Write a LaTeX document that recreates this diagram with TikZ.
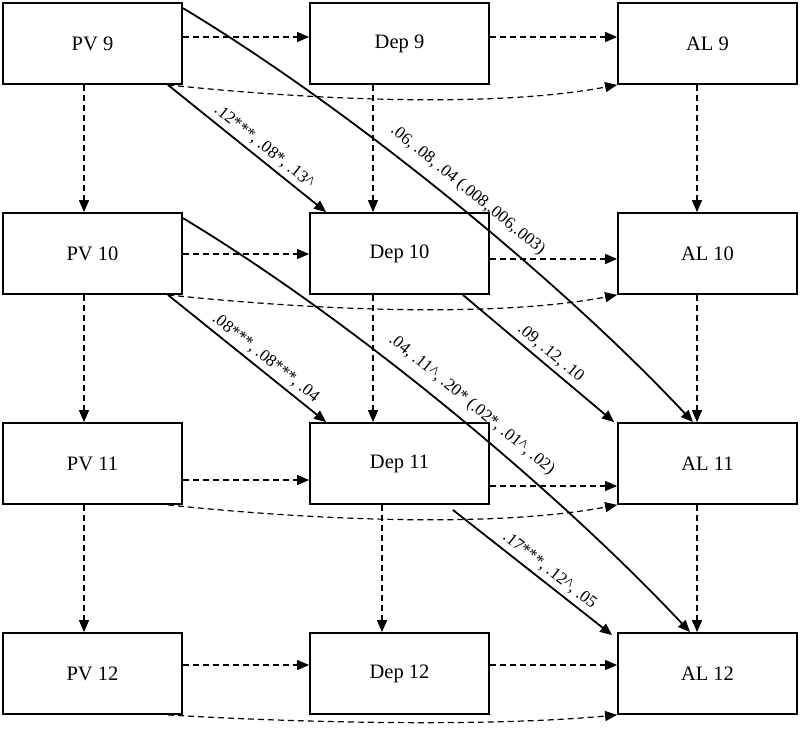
\documentclass[tikz,border=0pt]{standalone}
\usepackage{fontspec}
\setmainfont{Liberation Serif}
\usetikzlibrary{arrows.meta}
\begin{document}
\begin{tikzpicture}[x=1pt,y=-1pt,
  box/.style={draw,line width=1.8pt,minimum width=179pt,minimum height=81pt,inner sep=0pt,font=\fontsize{20.5}{24}\selectfont},
  dsh/.style={line width=1.2pt,dash pattern=on 6pt off 4pt,-{Triangle[length=12pt,width=10pt]}},
  sol/.style={line width=1.8pt,-{Triangle[length=12pt,width=10pt]}},
  lab/.style={sloped,above=1pt,font=\fontsize{17}{20}\selectfont}]
\useasboundingbox (0,0) rectangle (800,731);
% boxes
\node[box] (pv9)  at (92.5,43.5) {PV 9};
\node[box] (dep9) at (399.5,43.5) {Dep 9};
\node[box] (al9)  at (707.5,43.5) {AL 9};
\node[box] (pv10)  at (92.5,253.5) {PV 10};
\node[box] (dep10) at (399.5,253.5) {Dep 10};
\node[box] (al10)  at (707.5,253.5) {AL 10};
\node[box] (pv11)  at (92.5,463.5) {PV 11};
\node[box] (dep11) at (399.5,463.5) {Dep 11};
\node[box] (al11)  at (707.5,463.5) {AL 11};
\node[box] (pv12)  at (92.5,673.5) {PV 12};
\node[box] (dep12) at (399.5,673.5) {Dep 12};
\node[box] (al12)  at (707.5,673.5) {AL 12};
% horizontal dashed
\draw[dsh] ([yshift=6.5pt]pv9.east) -- ([yshift=6.5pt]dep9.west);
\draw[dsh] ([yshift=6.5pt]dep9.east) -- ([yshift=6.5pt]al9.west);
\draw[dsh] ([yshift=-0.5pt]pv10.east) -- ([yshift=-0.5pt]dep10.west);
\draw[dsh] ([yshift=-5.5pt]dep10.east) -- ([yshift=-5.5pt]al10.west);
\draw[dsh] ([yshift=-16.5pt]pv11.east) -- ([yshift=-16.5pt]dep11.west);
\draw[dsh] ([yshift=-22.5pt]dep11.east) -- ([yshift=-22.5pt]al11.west);
\draw[dsh] ([yshift=8.5pt]pv12.east) -- ([yshift=8.5pt]dep12.west);
\draw[dsh] ([yshift=8.5pt]dep12.east) -- ([yshift=8.5pt]al12.west);
% vertical dashed
\draw[dsh] ([xshift=-8.5pt]pv9.south) -- ([xshift=-8.5pt]pv10.north);
\draw[dsh] ([xshift=-8.5pt]pv10.south) -- ([xshift=-8.5pt]pv11.north);
\draw[dsh] ([xshift=-8.5pt]pv11.south) -- ([xshift=-8.5pt]pv12.north);
\draw[dsh] ([xshift=-26.5pt]dep9.south) -- ([xshift=-26.5pt]dep10.north);
\draw[dsh] ([xshift=-26.5pt]dep10.south) -- ([xshift=-26.5pt]dep11.north);
\draw[dsh] ([xshift=-17.5pt]dep11.south) -- ([xshift=-17.5pt]dep12.north);
\draw[dsh] ([xshift=-10.5pt]al9.south) -- ([xshift=-10.5pt]al10.north);
\draw[dsh] ([xshift=-10.5pt]al10.south) -- ([xshift=-10.5pt]al11.north);
\draw[dsh] ([xshift=-10.5pt]al11.south) -- ([xshift=-10.5pt]al12.north);
% curved dashed PV -> AL
\draw[dsh] ([xshift=-15pt]pv9.south east) .. controls +(133,14) and +(-128,24) .. (al9.south west);
\draw[dsh] ([xshift=-15pt]pv10.south east) .. controls +(133,14) and +(-128,24) .. (al10.south west);
\draw[dsh] ([xshift=-15pt]pv11.south east) .. controls +(133,14) and +(-128,24) .. (al11.south west);
\draw[dsh] ([xshift=-15pt]pv12.south east) .. controls +(133,8) and +(-128,12) .. (al12.south west);
% solid diagonals
\draw[sol] ([xshift=-15pt]pv9.south east) -- node[lab,pos=0.56]{.12***, .08*, .13\textasciicircum} ([xshift=17pt]dep10.north west);
\draw[sol] ([xshift=-15pt]pv10.south east) -- node[lab,pos=0.57]{.08***, .08***, .04} ([xshift=17pt]dep11.north west);
\draw[sol] ([xshift=-27pt]dep10.south east) -- node[lab,pos=0.53]{.09, .12, .10} ([xshift=-3pt]al11.north west);
\draw[sol] ([xshift=-37pt,yshift=-5pt]dep11.south east) -- node[lab,pos=0.56]{.17***, .12\textasciicircum, .05} ([xshift=-5pt,yshift=-3pt]al12.north west);
% long curves
\draw[sol] ([yshift=-6pt]pv9.north east) .. controls +(168,101) and +(-133,-142) .. node[lab,pos=0.51,above=5pt]{.06, .08, .04 (.008,.006,.003)} ([xshift=-14.5pt]al11.north);
\draw[sol] ([yshift=-6pt]pv10.north east) .. controls +(168,101) and +(-133,-142) .. node[lab,pos=0.52,above=5pt]{.04, .11\textasciicircum, .20* (.02*, .01\textasciicircum, .02)} ([xshift=-17.5pt]al12.north);
\end{tikzpicture}
\end{document}
